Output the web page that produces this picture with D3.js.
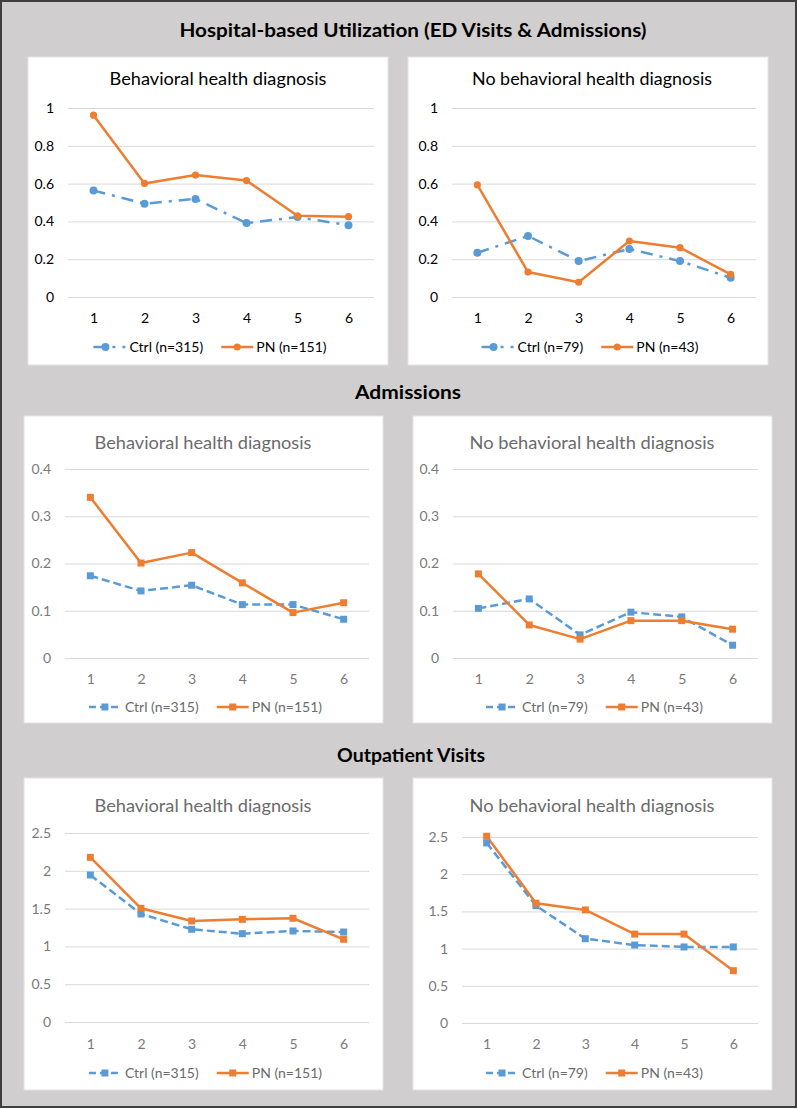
<!DOCTYPE html>
<html>
<head>
<meta charset="utf-8">
<script src="https://cdn.jsdelivr.net/npm/d3@7"></script>
<style>
  html, body { margin: 0; padding: 0; background: #fff; }
  svg { display: block; }
</style>
</head>
<body>
<svg id="chart" width="797" height="1109"></svg>
<script>
// ---------------- DATA ----------------
const categories = [1, 2, 3, 4, 5, 6];

const sectionTitles = [
  "Hospital-based Utilization (ED Visits & Admissions)",
  "Admissions",
  "Outpatient Visits"
];
const panelTitles = ["Behavioral health diagnosis", "No behavioral health diagnosis"];
const ctrlLabels = ["Ctrl (n=315)", "Ctrl (n=79)"];
const pnLabels = ["PN (n=151)", "PN (n=43)"];

const edTicks = [0, 0.2, 0.4, 0.6, 0.8, 1];
const admTicks = [0, 0.1, 0.2, 0.3, 0.4];
const outTicks = [0, 0.5, 1, 1.5, 2, 2.5];

// Hospital-based utilization
const edBhCtrl = [0.563, 0.494, 0.519, 0.391, 0.423, 0.380];
const edBhPN   = [0.962, 0.601, 0.645, 0.616, 0.430, 0.425];
const edNoCtrl = [0.234, 0.323, 0.190, 0.254, 0.190, 0.102];
const edNoPN   = [0.593, 0.132, 0.078, 0.296, 0.261, 0.120];

// Admissions
const admBhCtrl = [0.174, 0.142, 0.154, 0.113, 0.113, 0.082];
const admBhPN   = [0.340, 0.201, 0.223, 0.159, 0.096, 0.117];
const admNoCtrl = [0.105, 0.125, 0.049, 0.097, 0.087, 0.027];
const admNoPN   = [0.178, 0.070, 0.040, 0.079, 0.079, 0.061];

// Outpatient visits
const outBhCtrl = [1.944, 1.429, 1.226, 1.168, 1.204, 1.190];
const outBhPN   = [2.178, 1.504, 1.336, 1.358, 1.372, 1.094];
const outNoCtrl = [2.420, 1.577, 1.133, 1.048, 1.022, 1.022];
const outNoPN   = [2.510, 1.610, 1.520, 1.195, 1.195, 0.703];

// ---------------- LAYOUT ----------------
const BLUE = "#5b9bd5", ORANGE = "#ed7d31";
const FONT = "Lato, 'Open Sans', 'Liberation Sans', sans-serif";

const svg = d3.select("#chart");

svg.append("rect")
  .attr("x", 1).attr("y", 1).attr("width", 795).attr("height", 1106)
  .attr("fill", "#d0cece").attr("stroke", "#3f3f3f").attr("stroke-width", 2);

const sectionLayout = [
  { x: 413, y: 37, w: 467 },
  { x: 408, y: 399, w: 106 },
  { x: 411, y: 762, w: 148 }
];
sectionTitles.forEach((t, i) => {
  svg.append("text")
    .attr("x", sectionLayout[i].x).attr("y", sectionLayout[i].y)
    .attr("text-anchor", "middle")
    .attr("font-family", FONT).attr("font-weight", "bold").attr("font-size", 18.5)
    .attr("fill", "#000")
    .attr("textLength", sectionLayout[i].w).attr("lengthAdjust", "spacingAndGlyphs")
    .text(t);
});

const panels = [
  { box: [28, 57, 388, 365], px: [68, 374], py: [297, 108], ticks: edTicks, ctrl: edBhCtrl, pn: edBhPN, side: 0,
    titleX: 218, titleY: 85, titleW: 217, xlabY: 326, legY: 347, style: "top" },
  { box: [408, 57, 768, 365], px: [452, 756], py: [297, 108], ticks: edTicks, ctrl: edNoCtrl, pn: edNoPN, side: 1,
    titleX: 592, titleY: 85, titleW: 240, xlabY: 326, legY: 347, style: "top" },
  { box: [24, 416, 383, 723], px: [65, 369], py: [658, 469], ticks: admTicks, ctrl: admBhCtrl, pn: admBhPN, side: 0,
    titleX: 203, titleY: 449, titleW: 217, xlabY: 687, legY: 707, style: "sq" },
  { box: [413, 416, 772, 723], px: [453, 758], py: [658, 469], ticks: admTicks, ctrl: admNoCtrl, pn: admNoPN, side: 1,
    titleX: 592, titleY: 449, titleW: 245, xlabY: 687, legY: 707, style: "sq" },
  { box: [24, 778, 383, 1090], px: [65, 369], py: [1022, 833], ticks: outTicks, ctrl: outBhCtrl, pn: outBhPN, side: 0,
    titleX: 203, titleY: 812, titleW: 217, xlabY: 1052, legY: 1073, style: "sq" },
  { box: [413, 778, 772, 1090], px: [462, 758], py: [1023, 837], ticks: outTicks, ctrl: outNoCtrl, pn: outNoPN, side: 1,
    titleX: 592, titleY: 812, titleW: 245, xlabY: 1052, legY: 1073, style: "sq" }
];

panels.forEach(p => {
  const top = p.style === "top";
  const textCol = top ? "#000" : "#7a7a7a";
  const titleCol = top ? "#000" : "#6b6b6b";
  const legCol = top ? "#000" : "#6b6b6b";
  const ctrlDash = top ? "12,7,3,7" : "8,4";
  const g = svg.append("g");

  g.append("rect")
    .attr("x", p.box[0]).attr("y", p.box[1])
    .attr("width", p.box[2] - p.box[0]).attr("height", p.box[3] - p.box[1])
    .attr("fill", "#fff").attr("stroke", "#e4e4e4").attr("stroke-width", 1);

  g.append("text")
    .attr("x", p.titleX).attr("y", p.titleY)
    .attr("text-anchor", "middle")
    .attr("font-family", FONT).attr("font-size", 18).attr("fill", titleCol)
    .attr("textLength", p.titleW).attr("lengthAdjust", "spacingAndGlyphs")
    .text(panelTitles[p.side]);

  const x = d3.scalePoint().domain(categories).range(p.px).padding(0.5);
  const y = d3.scaleLinear().domain([0, d3.max(p.ticks)]).range(p.py);

  // y axis with gridlines
  const ya = g.append("g")
    .attr("transform", `translate(${p.px[0]},0)`)
    .call(d3.axisLeft(y).tickValues(p.ticks).tickFormat(d => String(d))
      .tickSize(-(p.px[1] - p.px[0])).tickPadding(14));
  ya.select(".domain").remove();
  ya.selectAll(".tick line").attr("stroke", "#d9d9d9").attr("stroke-width", 1);
  ya.selectAll(".tick text").attr("font-family", FONT).attr("font-size", 14).attr("fill", textCol);

  // x axis labels
  const xa = g.append("g")
    .attr("transform", `translate(0,${p.xlabY - 13})`)
    .call(d3.axisBottom(x).tickSize(0).tickPadding(0));
  xa.select(".domain").remove();
  xa.selectAll(".tick text").attr("font-family", FONT).attr("font-size", 14).attr("fill", textCol)
    .attr("dy", "0.71em");

  const line = d3.line().x((d, i) => x(categories[i])).y(d => y(d));

  // Ctrl series
  g.append("path").datum(p.ctrl)
    .attr("d", line).attr("fill", "none").attr("stroke", BLUE)
    .attr("stroke-width", 2.5).attr("stroke-dasharray", ctrlDash);
  // PN series
  g.append("path").datum(p.pn)
    .attr("d", line).attr("fill", "none").attr("stroke", ORANGE)
    .attr("stroke-width", 2.5).attr("stroke-linejoin", "round");

  function markers(data, color, r) {
    if (top) {
      g.selectAll(null).data(data).enter().append("circle")
        .attr("cx", (d, i) => x(categories[i])).attr("cy", d => y(d))
        .attr("r", r).attr("fill", color);
    } else {
      g.selectAll(null).data(data).enter().append("rect")
        .attr("x", (d, i) => x(categories[i]) - 3.5).attr("y", d => y(d) - 3.5)
        .attr("width", 7).attr("height", 7).attr("fill", color);
    }
  }
  markers(p.ctrl, BLUE, 4);
  markers(p.pn, ORANGE, 3.6);

  // legend
  const lg = g.append("g");
  const sl = 32;
  let cx = 0;
  lg.append("line").attr("x1", cx).attr("x2", cx + sl).attr("y1", 0).attr("y2", 0)
    .attr("stroke", BLUE).attr("stroke-width", 2.5)
    .attr("stroke-dasharray", top ? "12,7,3,7" : "7,4");
  if (top) lg.append("circle").attr("cx", cx + sl / 2 - 4).attr("cy", 0).attr("r", 4).attr("fill", BLUE);
  else lg.append("rect").attr("x", cx + sl / 2 - 3.5).attr("y", -3.5).attr("width", 7).attr("height", 7).attr("fill", BLUE);
  const t1 = lg.append("text").attr("x", cx + sl + 4).attr("y", 0).attr("dy", "0.35em")
    .attr("font-family", FONT).attr("font-size", 14).attr("fill", legCol)
    .text(ctrlLabels[p.side]);
  const w1 = t1.node().getComputedTextLength();
  cx = sl + 4 + w1 + 18;
  lg.append("line").attr("x1", cx).attr("x2", cx + sl).attr("y1", 0).attr("y2", 0)
    .attr("stroke", ORANGE).attr("stroke-width", 2.5);
  if (top) lg.append("circle").attr("cx", cx + sl / 2).attr("cy", 0).attr("r", 3.6).attr("fill", ORANGE);
  else lg.append("rect").attr("x", cx + sl / 2 - 3.5).attr("y", -3.5).attr("width", 7).attr("height", 7).attr("fill", ORANGE);
  const t2 = lg.append("text").attr("x", cx + sl + 3).attr("y", 0).attr("dy", "0.35em")
    .attr("font-family", FONT).attr("font-size", 14).attr("fill", legCol)
    .text(pnLabels[p.side]);
  const total = cx + sl + 3 + t2.node().getComputedTextLength();
  const center = (p.box[0] + p.box[2]) / 2 + 2;
  lg.attr("transform", `translate(${center - total / 2},${p.legY})`);
});
</script>
</body>
</html>
